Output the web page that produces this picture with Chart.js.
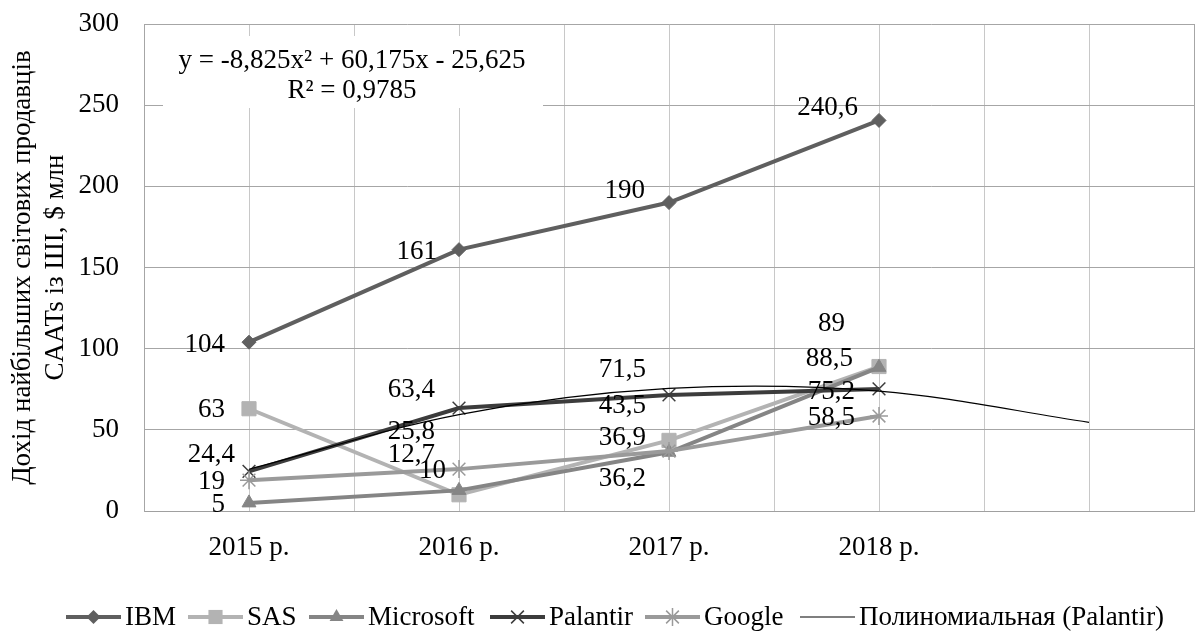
<!DOCTYPE html>
<html><head><meta charset="utf-8">
<script src="https://cdn.jsdelivr.net/npm/chart.js@4.4.1/dist/chart.umd.min.js"></script>
<style>html,body{margin:0;padding:0;background:#fff;}#wrap{width:1197px;height:633px;}</style>
</head><body><div id="wrap"><canvas id="c" width="1197" height="633"></canvas></div>
<script>
// ---- data ----
const categories = ['2015 р.', '2016 р.', '2017 р.', '2018 р.'];
const ibm = [104, 161, 190, 240.6];
const sas = [63, 10, 43.5, 89];
const microsoft = [5, 12.7, 36.2, 88.5];
const palantir = [24.4, 63.4, 71.5, 75.2];
const google = [19, 25.8, 36.9, 58.5];
const palantirTrend = [25.7, 59.4, 75.5, 73.9, 54.6]; // trendline values read at each period (one period forecast)
const seriesNames = ['IBM', 'SAS', 'Microsoft', 'Palantir', 'Google'];
const trendName = 'Полиномиальная (Palantir)';
const trendEquation = ['y = -8,825x² + 60,175x - 25,625', 'R² = 0,9785'];
const yTicks = [0, 50, 100, 150, 200, 250, 300];
const yTitle = ['Дохід найбільших світових продавців', 'CAATs із ШІ, $ млн'];

// ---- styles ----
const FONT = '"Liberation Serif", "Times New Roman", serif';
const FS = 27;
const colors = ['#5f5f5f', '#b3b3b3', '#858585', '#3c3c3c', '#9a9a9a'];
const pstyles = ['rectRot', 'rect', 'triangle', 'crossRot', 'star'];
const pradius = [7, 10, 8, 9, 9];
const pborder = [1, 1, 1, 1.5, 1.5];
const legendStarts = [66, 188, 309, 490, 645, 800]; // x where each legend swatch begins
// label offsets: [dx of text right edge from point, dy of text centre from point]
const labelOffsets = [
  [[-24, 3], [-22, 2], [-24, -12], [-21, -13]],
  [[-24, 1], [-13, -24], [-23, -34], [-34, -43]],
  [[-24, 2], [-24, -35], [-23, 27], [-26, -8]],
  [[-14, -16], [-24, -18], [-23, -25], [-24, 3]],
  [[-24, 2], [-24, -37], [-23, -13], [-24, 2]]
];
const allSeries = [ibm, sas, microsoft, palantir, google];

Chart.defaults.font.family = FONT;
Chart.defaults.font.size = FS;
Chart.defaults.color = '#000';

const datasets = allSeries.map((arr, i) => ({
  label: seriesNames[i],
  data: arr.map((v, j) => ({x: j + 1, y: v})),
  borderColor: colors[i],
  backgroundColor: colors[i],
  borderWidth: 4,
  pointStyle: pstyles[i],
  pointRadius: pradius[i],
  pointBorderWidth: pborder[i],
  pointBackgroundColor: colors[i],
  pointBorderColor: colors[i],
  tension: 0,
  order: 5 - i
}));
datasets.push({
  label: trendName,
  data: palantirTrend.map((v, j) => ({x: j + 1, y: v})),
  borderColor: '#000',
  borderWidth: 1.2,
  pointRadius: 0,
  tension: 0.35,
  order: 0
});

function fmt(v) { return String(v).replace('.', ','); }

function drawMarker(ctx, style, x, y, r, color, bw) {
  ctx.save();
  ctx.fillStyle = color; ctx.strokeStyle = color; ctx.lineWidth = bw;
  ctx.beginPath();
  if (style === 'rectRot') {
    ctx.moveTo(x, y - r); ctx.lineTo(x + r, y); ctx.lineTo(x, y + r); ctx.lineTo(x - r, y); ctx.closePath(); ctx.fill();
  } else if (style === 'rect') {
    const s = r * Math.SQRT1_2; ctx.rect(x - s, y - s, 2 * s, 2 * s); ctx.fill();
  } else if (style === 'triangle') {
    const h = r * 0.866;
    ctx.moveTo(x, y - r); ctx.lineTo(x + h, y + r / 2); ctx.lineTo(x - h, y + r / 2); ctx.closePath(); ctx.fill();
  } else if (style === 'crossRot') {
    const s = r * Math.SQRT1_2;
    ctx.moveTo(x - s, y - s); ctx.lineTo(x + s, y + s); ctx.moveTo(x + s, y - s); ctx.lineTo(x - s, y + s); ctx.stroke();
  } else if (style === 'star') {
    const s = r * Math.SQRT1_2;
    ctx.moveTo(x - s, y - s); ctx.lineTo(x + s, y + s); ctx.moveTo(x + s, y - s); ctx.lineTo(x - s, y + s);
    ctx.moveTo(x, y - r); ctx.lineTo(x, y + r); ctx.moveTo(x - r, y); ctx.lineTo(x + r, y); ctx.stroke();
  }
  ctx.restore();
}

const extras = {
  id: 'extras',
  beforeDatasetsDraw(chart) {
    const ctx = chart.ctx;
    ctx.save();
    ctx.fillStyle = '#fff';
    ctx.fillRect(163, 36, 380, 72);
    ctx.restore();
  },
  afterDatasetsDraw(chart) {
    const ctx = chart.ctx;
    ctx.save();
    ctx.font = FS + 'px ' + FONT;
    ctx.fillStyle = '#000';
    allSeries.forEach((arr, i) => {
      const meta = chart.getDatasetMeta(i);
      ctx.textAlign = 'right';
      ctx.textBaseline = 'middle';
      arr.forEach((v, j) => {
        const p = meta.data[j];
        const off = labelOffsets[i][j];
        ctx.fillText(fmt(v), p.x + off[0], p.y + off[1]);
      });
    });
    ctx.textAlign = 'center';
    ctx.textBaseline = 'middle';
    ctx.fillText(trendEquation[0], 352, 61);
    ctx.fillText(trendEquation[1], 352, 91);
    ctx.restore();
  },
  afterDraw(chart) {
    const ctx = chart.ctx;
    ctx.save();
    ctx.font = FS + 'px ' + FONT;
    ctx.textBaseline = 'middle';
    ctx.textAlign = 'left';
    const lineLen = 55, gapText = 4;
    const names = seriesNames.concat([trendName]);
    const y = 617;
    names.forEach((n, i) => {
      const x = legendStarts[i];
      ctx.beginPath();
      if (i < seriesNames.length) {
        ctx.strokeStyle = colors[i]; ctx.lineWidth = 4;
      } else {
        ctx.strokeStyle = '#000'; ctx.lineWidth = 1.2;
      }
      ctx.moveTo(x, y); ctx.lineTo(x + lineLen, y); ctx.stroke();
      if (i < seriesNames.length) drawMarker(ctx, pstyles[i], x + lineLen / 2, y, pradius[i], colors[i], pborder[i]);
      ctx.fillStyle = '#000';
      ctx.fillText(n, x + lineLen + gapText, y + 1);
    });
    ctx.restore();
  }
};

new Chart(document.getElementById('c'), {
  type: 'line',
  data: {datasets},
  options: {
    responsive: false,
    animation: false,
    devicePixelRatio: 1,
    layout: {autoPadding: false, padding: {left: 0, top: 24, right: 3, bottom: 62}},
    plugins: {legend: {display: false}, tooltip: {enabled: false}},
    scales: {
      x: {
        type: 'linear',
        min: 0.5, max: 5.5,
        afterFit(s) { s.height = 60; s.paddingLeft = 0; s.paddingRight = 0; },
        afterBuildTicks(s) {
          const t = [];
          for (let k = 1; k <= 11; k++) t.push({value: k * 0.5});
          s.ticks = t;
        },
        ticks: {
          autoSkip: false, maxRotation: 0, padding: 21,
          font: {size: FS, family: FONT}, color: '#000',
          callback(v) {
            const r = Math.round(v);
            return (Math.abs(v - r) < 1e-6 && r >= 1 && r <= categories.length) ? categories[r - 1] : '';
          }
        },
        grid: {
          drawTicks: false,
          color(ctx) { const v = ctx.tick && ctx.tick.value; return (v === 0.5 || v === 5.5) ? '#a6a6a6' : '#c8c8c8'; },
          lineWidth: 1
        },
        border: {display: true, color: '#a0a0a0'}
      },
      y: {
        min: 0, max: 300,
        afterFit(s) { s.width = 144; s.paddingTop = 0; s.paddingBottom = 0; },
        afterBuildTicks(s) { s.ticks = yTicks.map(v => ({value: v})); },
        ticks: {padding: 25, font: {size: FS, family: FONT}, color: '#000'},
        grid: {drawTicks: false, color: '#a6a6a6', lineWidth: 1},
        border: {display: true, color: '#a6a6a6'},
        title: {
          display: true, text: yTitle, color: '#000',
          font: {size: FS, family: FONT, lineHeight: 1.2},
          padding: {top: 7, bottom: 0}
        }
      }
    }
  },
  plugins: [extras]
});
</script>
</body></html>
